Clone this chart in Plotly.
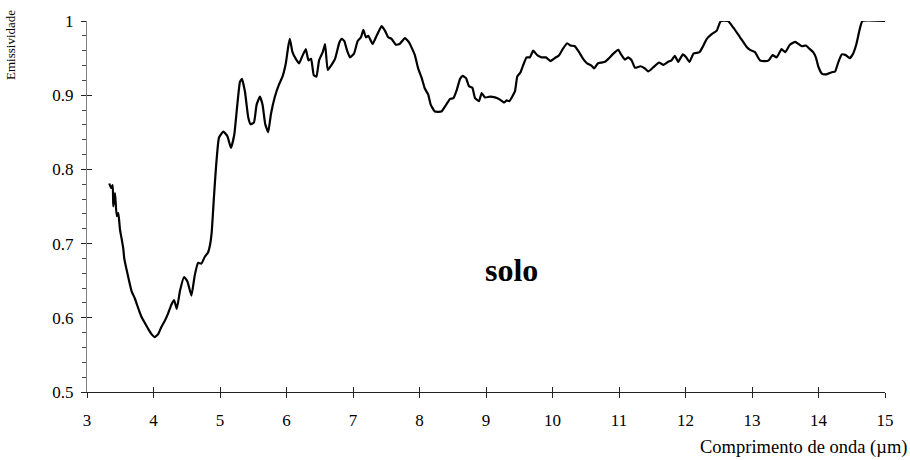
import plotly.graph_objects as go

# Soil emissivity spectrum (wavelength in micrometres)
wavelength_um = [
    3.335, 3.361, 3.386, 3.395, 3.421, 3.447, 3.471, 3.496, 3.522, 3.546,
    3.56, 3.62, 3.67, 3.72, 3.77, 3.82, 3.87, 3.92, 3.97, 4.02,
    4.07, 4.12, 4.17, 4.22, 4.27, 4.31, 4.35, 4.40, 4.46, 4.51,
    4.57, 4.62, 4.67, 4.72, 4.77, 4.82, 4.85, 4.875, 4.91, 4.94,
    4.985, 5.05, 5.11, 5.165, 5.215, 5.26, 5.30, 5.33, 5.375, 5.425,
    5.46, 5.51, 5.55, 5.60, 5.64, 5.68, 5.725, 5.765, 5.825, 5.885,
    5.94, 5.99, 6.025, 6.05, 6.09, 6.14, 6.19, 6.23, 6.29, 6.33,
    6.37, 6.41, 6.45, 6.49, 6.545, 6.58, 6.62, 6.67, 6.73, 6.795,
    6.83, 6.87, 6.905, 6.955, 7.015, 7.07, 7.12, 7.155, 7.195, 7.23,
    7.295, 7.355, 7.43, 7.48, 7.53, 7.58, 7.645, 7.70, 7.78, 7.845,
    7.93, 7.98, 8.03, 8.08, 8.13, 8.17, 8.23, 8.33, 8.40, 8.46,
    8.51, 8.56, 8.61, 8.65, 8.70, 8.745, 8.795, 8.835, 8.895, 8.935,
    8.985, 9.06, 9.135, 9.21, 9.27, 9.31, 9.35, 9.435, 9.47, 9.52,
    9.57, 9.61, 9.66, 9.71, 9.77, 9.835, 9.90, 9.97, 10.035, 10.10,
    10.16, 10.22, 10.27, 10.335, 10.40, 10.46, 10.52, 10.585, 10.625, 10.685,
    10.74, 10.79, 10.84, 10.915, 10.99, 11.03, 11.09, 11.14, 11.19, 11.24,
    11.325, 11.39, 11.44, 11.52, 11.60, 11.67, 11.74, 11.79, 11.84, 11.89,
    11.96, 12.01, 12.06, 12.12, 12.21, 12.27, 12.32, 12.39, 12.47, 12.53,
    12.64, 12.72, 12.82, 12.92, 12.97, 13.045, 13.12, 13.20, 13.25, 13.31,
    13.37, 13.445, 13.50, 13.57, 13.65, 13.70, 13.75, 13.81, 13.86, 13.92,
    13.96, 14.00, 14.05, 14.11, 14.20, 14.25, 14.30, 14.35, 14.41, 14.47,
    14.52, 14.57, 14.62, 14.66, 15.0,
]

emissivity = [
    0.781, 0.775, 0.779, 0.750, 0.768, 0.737, 0.741, 0.719, 0.706, 0.693,
    0.680, 0.655, 0.636, 0.626, 0.613, 0.601, 0.593, 0.585, 0.578, 0.574,
    0.578, 0.588, 0.596, 0.606, 0.618, 0.624, 0.612, 0.637, 0.655, 0.649,
    0.630, 0.657, 0.674, 0.673, 0.682, 0.688, 0.698, 0.715, 0.764, 0.803,
    0.843, 0.851, 0.845, 0.829, 0.847, 0.887, 0.918, 0.922, 0.905, 0.870,
    0.861, 0.863, 0.887, 0.898, 0.887, 0.861, 0.850, 0.874, 0.898, 0.914,
    0.925, 0.943, 0.965, 0.976, 0.958, 0.949, 0.943, 0.951, 0.962, 0.947,
    0.949, 0.927, 0.925, 0.947, 0.958, 0.969, 0.934, 0.940, 0.949, 0.971,
    0.976, 0.973, 0.962, 0.951, 0.956, 0.973, 0.978, 0.988, 0.978, 0.980,
    0.969, 0.980, 0.993, 0.987, 0.978, 0.976, 0.968, 0.969, 0.977, 0.971,
    0.954, 0.936, 0.924, 0.909, 0.901, 0.887, 0.878, 0.878, 0.887, 0.895,
    0.896, 0.907, 0.922, 0.926, 0.923, 0.912, 0.910, 0.896, 0.892, 0.903,
    0.897, 0.898, 0.897, 0.894, 0.890, 0.893, 0.892, 0.905, 0.925, 0.931,
    0.943, 0.951, 0.951, 0.960, 0.954, 0.951, 0.951, 0.946, 0.950, 0.954,
    0.963, 0.970, 0.967, 0.966, 0.958, 0.949, 0.943, 0.940, 0.936, 0.943,
    0.944, 0.945, 0.949, 0.956, 0.961, 0.955, 0.948, 0.951, 0.947, 0.937,
    0.939, 0.936, 0.932, 0.938, 0.944, 0.941, 0.945, 0.947, 0.953, 0.945,
    0.955, 0.951, 0.945, 0.956, 0.958, 0.967, 0.976, 0.982, 0.987, 1.0,
    1.0, 0.991, 0.978, 0.965, 0.961, 0.958, 0.947, 0.946, 0.947, 0.954,
    0.951, 0.962, 0.958, 0.968, 0.972, 0.969, 0.966, 0.967, 0.963, 0.958,
    0.951, 0.938, 0.929, 0.928, 0.931, 0.932, 0.945, 0.955, 0.954, 0.950,
    0.956, 0.969, 0.989, 1.0, 1.0,
]

x_ticks = [3, 4, 5, 6, 7, 8, 9, 10, 11, 12, 13, 14, 15]
y_ticks = [0.5, 0.6, 0.7, 0.8, 0.9, 1.0]
y_tick_text = ["0.5", "0.6", "0.7", "0.8", "0.9", "1"]

SERIF = "Liberation Serif, Times New Roman, serif"

fig = go.Figure()
fig.add_trace(go.Scatter(
    x=wavelength_um, y=emissivity, mode="lines",
    line=dict(color="black", width=2.2, shape="spline", smoothing=0.4),
    hoverinfo="skip", showlegend=False,
))
# invisible trace so the overlay axes (inner half of crossing ticks) are drawn
fig.add_trace(go.Scatter(
    x=[3, 15], y=[0.5, 1.0], xaxis="x2", yaxis="y2", mode="markers",
    marker=dict(opacity=0), hoverinfo="skip", showlegend=False,
))

fig.update_layout(
    width=910, height=460,
    margin=dict(l=87, r=25, t=15, b=68),
    paper_bgcolor="white", plot_bgcolor="white",
    font=dict(family=SERIF, size=16, color="black"),
    xaxis=dict(
        range=[3, 15], tickvals=x_ticks, showgrid=False, zeroline=False,
        showline=True, linecolor="#222222", linewidth=1,
        ticks="outside", ticklen=5, tickcolor="#222222", tickwidth=1,
        ticklabelstandoff=8,
        tickfont=dict(family=SERIF, size=17, color="black"),
    ),
    yaxis=dict(
        range=[0.5, 1.0], tickvals=y_ticks, ticktext=y_tick_text,
        showgrid=False, zeroline=False,
        showline=True, linecolor="#808080", linewidth=1,
        ticks="outside", ticklen=5, tickcolor="#222222", tickwidth=1,
        minor=dict(dtick=0.02, ticks="outside", ticklen=4, tickcolor="#444444", showgrid=False),
        ticklabelstandoff=4,
        tickfont=dict(family=SERIF, size=17, color="black"),
    ),
    xaxis2=dict(
        range=[3, 15], overlaying="x", anchor="y", side="bottom",
        tickvals=x_ticks, showticklabels=False, showgrid=False, zeroline=False,
        showline=False, ticks="inside", ticklen=5, tickcolor="#222222",
    ),
    yaxis2=dict(
        range=[0.5, 1.0], overlaying="y", anchor="x", side="left",
        tickvals=y_ticks, showticklabels=False, showgrid=False, zeroline=False,
        showline=False, ticks="inside", ticklen=5, tickcolor="#222222",
    ),
    annotations=[
        dict(text="Emissividade", xref="paper", yref="paper", x=0, y=1,
             xanchor="center", yanchor="top", xshift=-77, yshift=13,
             textangle=-90, showarrow=False,
             font=dict(family=SERIF, size=13, color="black")),
        dict(text="Comprimento de onda (µm)", xref="paper", yref="paper",
             x=1, y=0, xanchor="right", yanchor="middle", xshift=24, yshift=-55,
             showarrow=False, font=dict(family=SERIF, size=18.5, color="black")),
        dict(text="<b>solo</b>", xref="x", yref="y", x=9.38, y=0.664,
             xanchor="center", yanchor="middle", showarrow=False,
             font=dict(family=SERIF, size=32, color="black")),
    ],
)

fig.write_html("out.html")
